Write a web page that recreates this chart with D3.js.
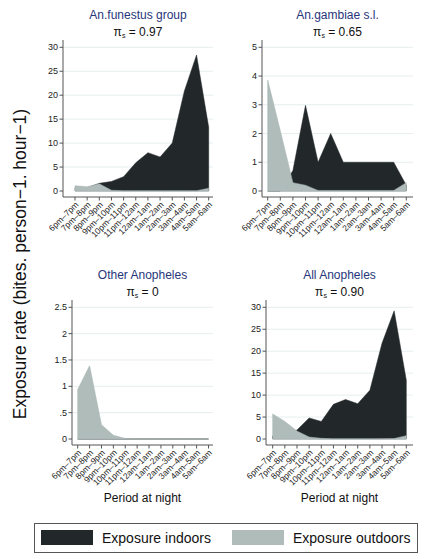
<!DOCTYPE html>
<html><head><meta charset="utf-8">
<script src="https://cdn.jsdelivr.net/npm/d3@7"></script>
<style>body{margin:0;background:#fff}svg{display:block;font-family:"Liberation Sans",Arial,sans-serif}</style>
</head><body><svg id="c" width="426" height="559"></svg>
<script>
const periods = ["6pm–7pm","7pm–8pm","8pm–9pm","9pm–10pm","10pm–11pm","11pm–12am","12am–1am","1am–2am","2am–3am","3am–4am","4am–5am","5am–6am"];
const funestusIndoor  = [0.7,0.7,1.6,2.0,3.0,5.9,8.0,7.1,10.0,20.9,28.4,13.3];
const funestusOutdoor = [1.1,0.9,1.5,0.15,0.05,0.05,0.05,0.05,0.05,0.05,0.05,0.6];
const gambiaeIndoor   = [0,0,0.71,2.98,1.0,2.0,1.0,1.0,1.0,1.0,1.0,0.2];
const gambiaeOutdoor  = [3.86,2.1,0.29,0.2,0.02,0.02,0.02,0.02,0.02,0.02,0.02,0.29];
const otherIndoor     = [0,0,0,0,0,0,0,0,0,0,0,0];
const otherOutdoor    = [0.94,1.39,0.27,0.07,0.01,0,0,0,0,0,0,0];
const allIndoor       = [0.7,0.7,2.05,4.8,4.0,7.9,9.0,8.05,11.1,21.8,29.2,13.4];
const allOutdoor      = [5.7,4.0,1.8,0.45,0.15,0.05,0.05,0.05,0.05,0.08,0.1,0.76];
const titles = ["An.funestus group","An.gambiae s.l.","Other Anopheles","All Anopheles"];
const rhoValues = ["0.97","0.65","0","0.90"];
const yTicks1 = [0,5,10,15,20,25,30];
const yTicks2 = [0,1,2,3,4,5];
const yTicks3 = [0,0.5,1,1.5,2,2.5];
const yTicks4 = [0,5,10,15,20,25,30];
const legendLabels = ["Exposure indoors","Exposure outdoors"];

const indoorColor = "#22282a", outdoorColor = "#afbcba";
const svg = d3.select("#c");

const panels = [
  {indoor:funestusIndoor, outdoor:funestusOutdoor, ticks:yTicks1, axisX:63, x0:75, x1:208.7, right:213, yTop:47.3, yZero:191, axisY:197, top:40, xTitle:false},
  {indoor:gambiaeIndoor, outdoor:gambiaeOutdoor, ticks:yTicks2, axisX:262, x0:267.7, x1:406.3, right:413, yTop:47.3, yZero:191, axisY:197, top:40, xTitle:false},
  {indoor:otherIndoor, outdoor:otherOutdoor, ticks:yTicks3, axisX:72, x0:77.7, x1:208.5, right:213, yTop:307.3, yZero:439, axisY:445, top:300, xTitle:true},
  {indoor:allIndoor, outdoor:allOutdoor, ticks:yTicks4, axisX:266, x0:272.7, x1:406.3, right:413, yTop:307.3, yZero:439, axisY:445, top:300, xTitle:true}
];
const fmt = v => v === 0 ? "0" : (v < 1 ? String(v).replace(/^0/, "") : String(v));

panels.forEach((p, i) => {
  const g = svg.append("g");
  const x = d3.scalePoint().domain(periods).range([p.x0, p.x1]);
  const y = d3.scaleLinear().domain([0, d3.max(p.ticks)]).range([p.yZero, p.yTop]);
  g.selectAll(".grid").data(p.ticks.filter(t => t > 0)).join("line")
    .attr("x1", p.axisX).attr("x2", p.right).attr("y1", d => y(d)).attr("y2", d => y(d))
    .attr("stroke", "#e6eeee").attr("stroke-width", 1);
  const area = vals => d3.area().x((d, j) => x(periods[j])).y0(y(0)).y1(d => y(d))(vals);
  g.append("path").attr("d", area(p.indoor)).attr("fill", indoorColor).attr("stroke", indoorColor).attr("stroke-width", 0.5);
  g.append("path").attr("d", area(p.outdoor)).attr("fill", outdoorColor).attr("stroke", "#a5b3b1").attr("stroke-width", 0.5);
  g.append("line").attr("x1", p.axisX).attr("x2", p.axisX).attr("y1", p.top).attr("y2", p.axisY).attr("stroke", "#555").attr("stroke-width", 1);
  g.selectAll(".yt").data(p.ticks).join("line")
    .attr("x1", p.axisX - 3.5).attr("x2", p.axisX).attr("y1", d => y(d)).attr("y2", d => y(d)).attr("stroke", "#555");
  g.selectAll(".yl").data(p.ticks).join("text")
    .attr("x", p.axisX - 5).attr("y", d => y(d)).attr("dy", "0.35em").attr("text-anchor", "end")
    .attr("font-size", 9).attr("fill", "#222").text(fmt);
  g.append("line").attr("x1", p.axisX).attr("x2", p.right).attr("y1", p.axisY).attr("y2", p.axisY).attr("stroke", "#555");
  g.selectAll(".xt").data(periods).join("line")
    .attr("x1", d => x(d)).attr("x2", d => x(d)).attr("y1", p.axisY).attr("y2", p.axisY + 3.5).attr("stroke", "#555");
  g.selectAll(".xl").data(periods).join("text")
    .attr("transform", d => `translate(${x(d) + 2},${p.axisY + 6}) rotate(-45)`)
    .attr("text-anchor", "end").attr("dy", "0.35em").attr("font-size", 8.5).attr("fill", "#222").text(d => d);
  const cx = (p.axisX + p.right) / 2;
  g.append("text").attr("x", cx).attr("y", p.top - 21).attr("text-anchor", "middle")
    .attr("font-size", 12).attr("fill", "#27357a").text(titles[i]);
  const t2 = g.append("text").attr("x", cx).attr("y", p.top - 4).attr("text-anchor", "middle")
    .attr("font-size", 12).attr("fill", "#111");
  t2.append("tspan").text("π");
  t2.append("tspan").attr("font-size", 7).attr("dy", 2).text("s");
  t2.append("tspan").attr("dy", -2).text(" = " + rhoValues[i]);
  if (p.xTitle) {
    g.append("text").attr("x", cx).attr("y", 502).attr("text-anchor", "middle")
      .attr("font-size", 12).attr("fill", "#111").text("Period at night");
  }
});

svg.append("text").attr("transform", "translate(25.5,264) rotate(-90)").attr("text-anchor", "middle")
  .attr("font-size", 17.5).attr("fill", "#111").text("Exposure rate (bites. person−1. hour−1)");

const lg = svg.append("g");
lg.append("rect").attr("x", 34.5).attr("y", 523.5).attr("width", 383).attr("height", 29)
  .attr("fill", "#fff").attr("stroke", "#555").attr("stroke-width", 1);
const legendItems = [{c: indoorColor, x: 41, tx: 102}, {c: outdoorColor, x: 232, tx: 293}];
legendItems.forEach((it, k) => {
  lg.append("rect").attr("x", it.x).attr("y", 530).attr("width", 52).attr("height", 15).attr("fill", it.c);
  lg.append("text").attr("x", it.tx).attr("y", 538).attr("dy", "0.35em").attr("font-size", 14).attr("fill", "#111").text(legendLabels[k]);
});
</script></body></html>
